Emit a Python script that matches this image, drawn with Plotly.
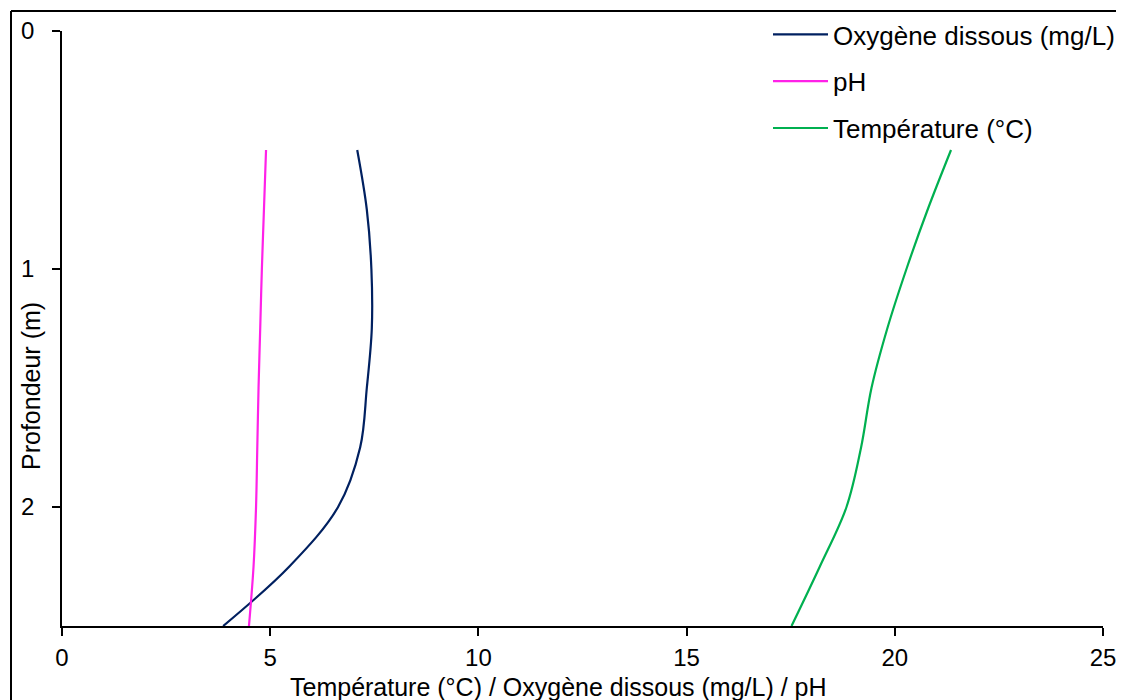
import plotly.graph_objects as go

depth = [0.5, 0.75, 1.0, 1.25, 1.5, 1.75, 2.0, 2.25, 2.5]
oxygene = [7.09, 7.32, 7.43, 7.44, 7.32, 7.16, 6.63, 5.46, 3.87]
ph = [4.90, 4.85, 4.80, 4.76, 4.72, 4.69, 4.66, 4.60, 4.49]
temperature = [21.35, 20.79, 20.28, 19.82, 19.44, 19.19, 18.84, 18.20, 17.52]

names = ["Oxygène dissous (mg/L)", "pH", "Température (°C)"]
colors = ["#002060", "#FF21E8", "#00B050"]
series = [oxygene, ph, temperature]

W, H = 1124, 700
OFF = 8  # page body margin offset
SL, SR, ST, SB = 62, 1103, 31, 626
L = SL - OFF
T = ST - OFF
R = W - (SR - OFF)
B = H - (SB - OFF)
FONT = "Liberation Sans, Arial, sans-serif"
FS = 26
TICKFS = 24
TITLEFS = 25

fig = go.Figure()
for nm, col, vals in zip(names, colors, series):
    fig.add_trace(go.Scatter(
        x=vals, y=depth, name=nm, mode="lines",
        line=dict(color=col, width=2.2, shape="spline", smoothing=1.0),
        legendgroup=nm,
    ))

pw = SR - SL
ph_ = SB - ST

def px2paper_x(px):
    return (px - SL) / pw

def px2paper_y(py):
    return 1 - (py - ST) / ph_

fig.update_layout(
    width=W, height=H,
    margin=dict(l=L, r=R, t=T, b=B, pad=0, autoexpand=False),
    paper_bgcolor="white", plot_bgcolor="white",
    font=dict(family=FONT, size=FS, color="black"),
    showlegend=True,
    legend=dict(
        x=px2paper_x(768), y=px2paper_y(11), xanchor="left", yanchor="top",
        bgcolor="rgba(0,0,0,0)", font=dict(size=FS, family=FONT),
        tracegroupgap=10, itemwidth=55,
    ),
    xaxis=dict(
        range=[0, 25], tickvals=[0, 5, 10, 15, 20, 25],
        showgrid=False, zeroline=False, showline=True, linecolor="black", linewidth=1.5,
        ticks="outside", ticklen=8, tickcolor="black", tickwidth=1.5,
        tickfont=dict(size=TICKFS, family=FONT), ticklabelstandoff=1,
    ),
    yaxis=dict(
        range=[2.5, 0], tickvals=[0, 1, 2],
        showgrid=False, zeroline=False, showline=True, linecolor="black", linewidth=1.5,
        ticks="outside", ticklen=8, tickcolor="black", tickwidth=1.5,
        tickfont=dict(size=TICKFS, family=FONT), ticklabelstandoff=13,
    ),
    annotations=[
        dict(text="Température (°C) / Oxygène dissous (mg/L) / pH",
             xref="paper", yref="paper", x=px2paper_x(558), y=px2paper_y(687),
             xanchor="center", yanchor="middle", showarrow=False,
             font=dict(size=TITLEFS, family=FONT)),
        dict(text="Profondeur (m)", textangle=-90,
             xref="paper", yref="paper", x=px2paper_x(31), y=px2paper_y(386),
             xanchor="center", yanchor="middle", showarrow=False,
             font=dict(size=TITLEFS, family=FONT)),
    ],
    shapes=[
        dict(type="line", xref="paper", yref="paper",
             x0=px2paper_x(11), x1=px2paper_x(1200), y0=px2paper_y(11), y1=px2paper_y(11),
             line=dict(color="black", width=2)),
        dict(type="line", xref="paper", yref="paper",
             x0=px2paper_x(11), x1=px2paper_x(11), y0=px2paper_y(11), y1=px2paper_y(760),
             line=dict(color="black", width=2)),
    ],
)

fig.write_html("out.html")
